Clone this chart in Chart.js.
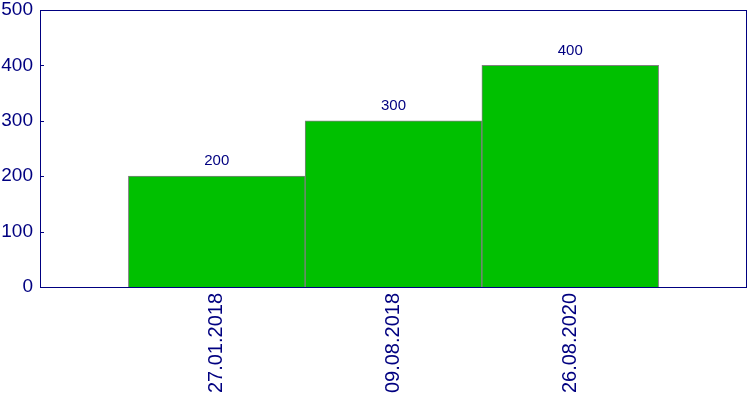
<!DOCTYPE html>
<html>
<head>
<meta charset="utf-8">
<script src="https://cdn.jsdelivr.net/npm/chart.js@4/dist/chart.umd.min.js"></script>
<style>
  html, body { margin: 0; padding: 0; background: #fff; }
  #wrap { width: 750px; height: 400px; }
</style>
</head>
<body>
<div id="wrap"><canvas id="chart" width="750" height="400"></canvas></div>
<script>
const dates = ['27.01.2018', '09.08.2018', '26.08.2020'];
const amounts = [200, 300, 400];
const yTicks = [0, 100, 200, 300, 400, 500];

const navy = '#000080';
const font = 'Liberation Sans, Arial, sans-serif';

// frame around the plot plus short inward ticks on the y axis
const framePlugin = {
    id: 'frame',
    afterDraw(chart) {
        const { ctx, chartArea } = chart;
        const y = chart.scales.y;
        ctx.save();
        ctx.strokeStyle = navy;
        ctx.lineWidth = 1;
        ctx.strokeRect(chartArea.left + 0.5, chartArea.top + 0.5,
            chartArea.right - chartArea.left - 1, chartArea.bottom - chartArea.top);
        ctx.beginPath();
        yTicks.forEach(v => {
            const py = Math.round(y.getPixelForValue(v)) + 0.5;
            ctx.moveTo(chartArea.left, py);
            ctx.lineTo(chartArea.left + 4, py);
        });
        ctx.stroke();
        ctx.restore();
    }
};

const valueLabels = {
    id: 'valueLabels',
    afterDatasetsDraw(chart) {
        const { ctx } = chart;
        const meta = chart.getDatasetMeta(0);
        ctx.save();
        ctx.fillStyle = navy;
        ctx.font = '15px ' + font;
        ctx.textAlign = 'center';
        ctx.textBaseline = 'middle';
        meta.data.forEach((bar, i) => {
            ctx.fillText(String(amounts[i]), bar.x, bar.y - 15);
        });
        ctx.restore();
    }
};

new Chart(document.getElementById('chart'), {
    type: 'bar',
    data: {
        datasets: [{
            data: amounts.map((v, i) => ({ x: i + 1, y: v })),
            backgroundColor: '#00c000',
            borderColor: '#808080',
            borderWidth: 1,
            barPercentage: 1,
            categoryPercentage: 1
        }]
    },
    options: {
        responsive: false,
        animation: false,
        layout: { padding: { top: 10, right: 3, left: 0, bottom: 0 } },
        plugins: {
            legend: { display: false },
            tooltip: { enabled: false }
        },
        scales: {
            x: {
                type: 'linear',
                min: 0,
                max: 4,
                offset: false,
                grid: { display: false, drawTicks: false },
                border: { display: false },
                afterFit(scale) {
                    scale.height = 113;
                    scale.paddingLeft = 0;
                    scale.paddingRight = 0;
                },
                ticks: {
                    stepSize: 1,
                    autoSkip: false,
                    minRotation: 90,
                    maxRotation: 90,
                    padding: 6,
                    color: navy,
                    font: { family: font, size: 20 },
                    callback: v => dates[v - 1] || ''
                }
            },
            y: {
                min: 0,
                max: 500,
                grid: { display: false, drawTicks: false },
                border: { display: false },
                afterFit(scale) {
                    scale.width = 40;
                    scale.paddingTop = 0;
                    scale.paddingBottom = 0;
                },
                ticks: {
                    stepSize: 100,
                    padding: 7,
                    color: navy,
                    font: { family: font, size: 19 }
                }
            }
        }
    },
    plugins: [framePlugin, valueLabels]
});
</script>
</body>
</html>
